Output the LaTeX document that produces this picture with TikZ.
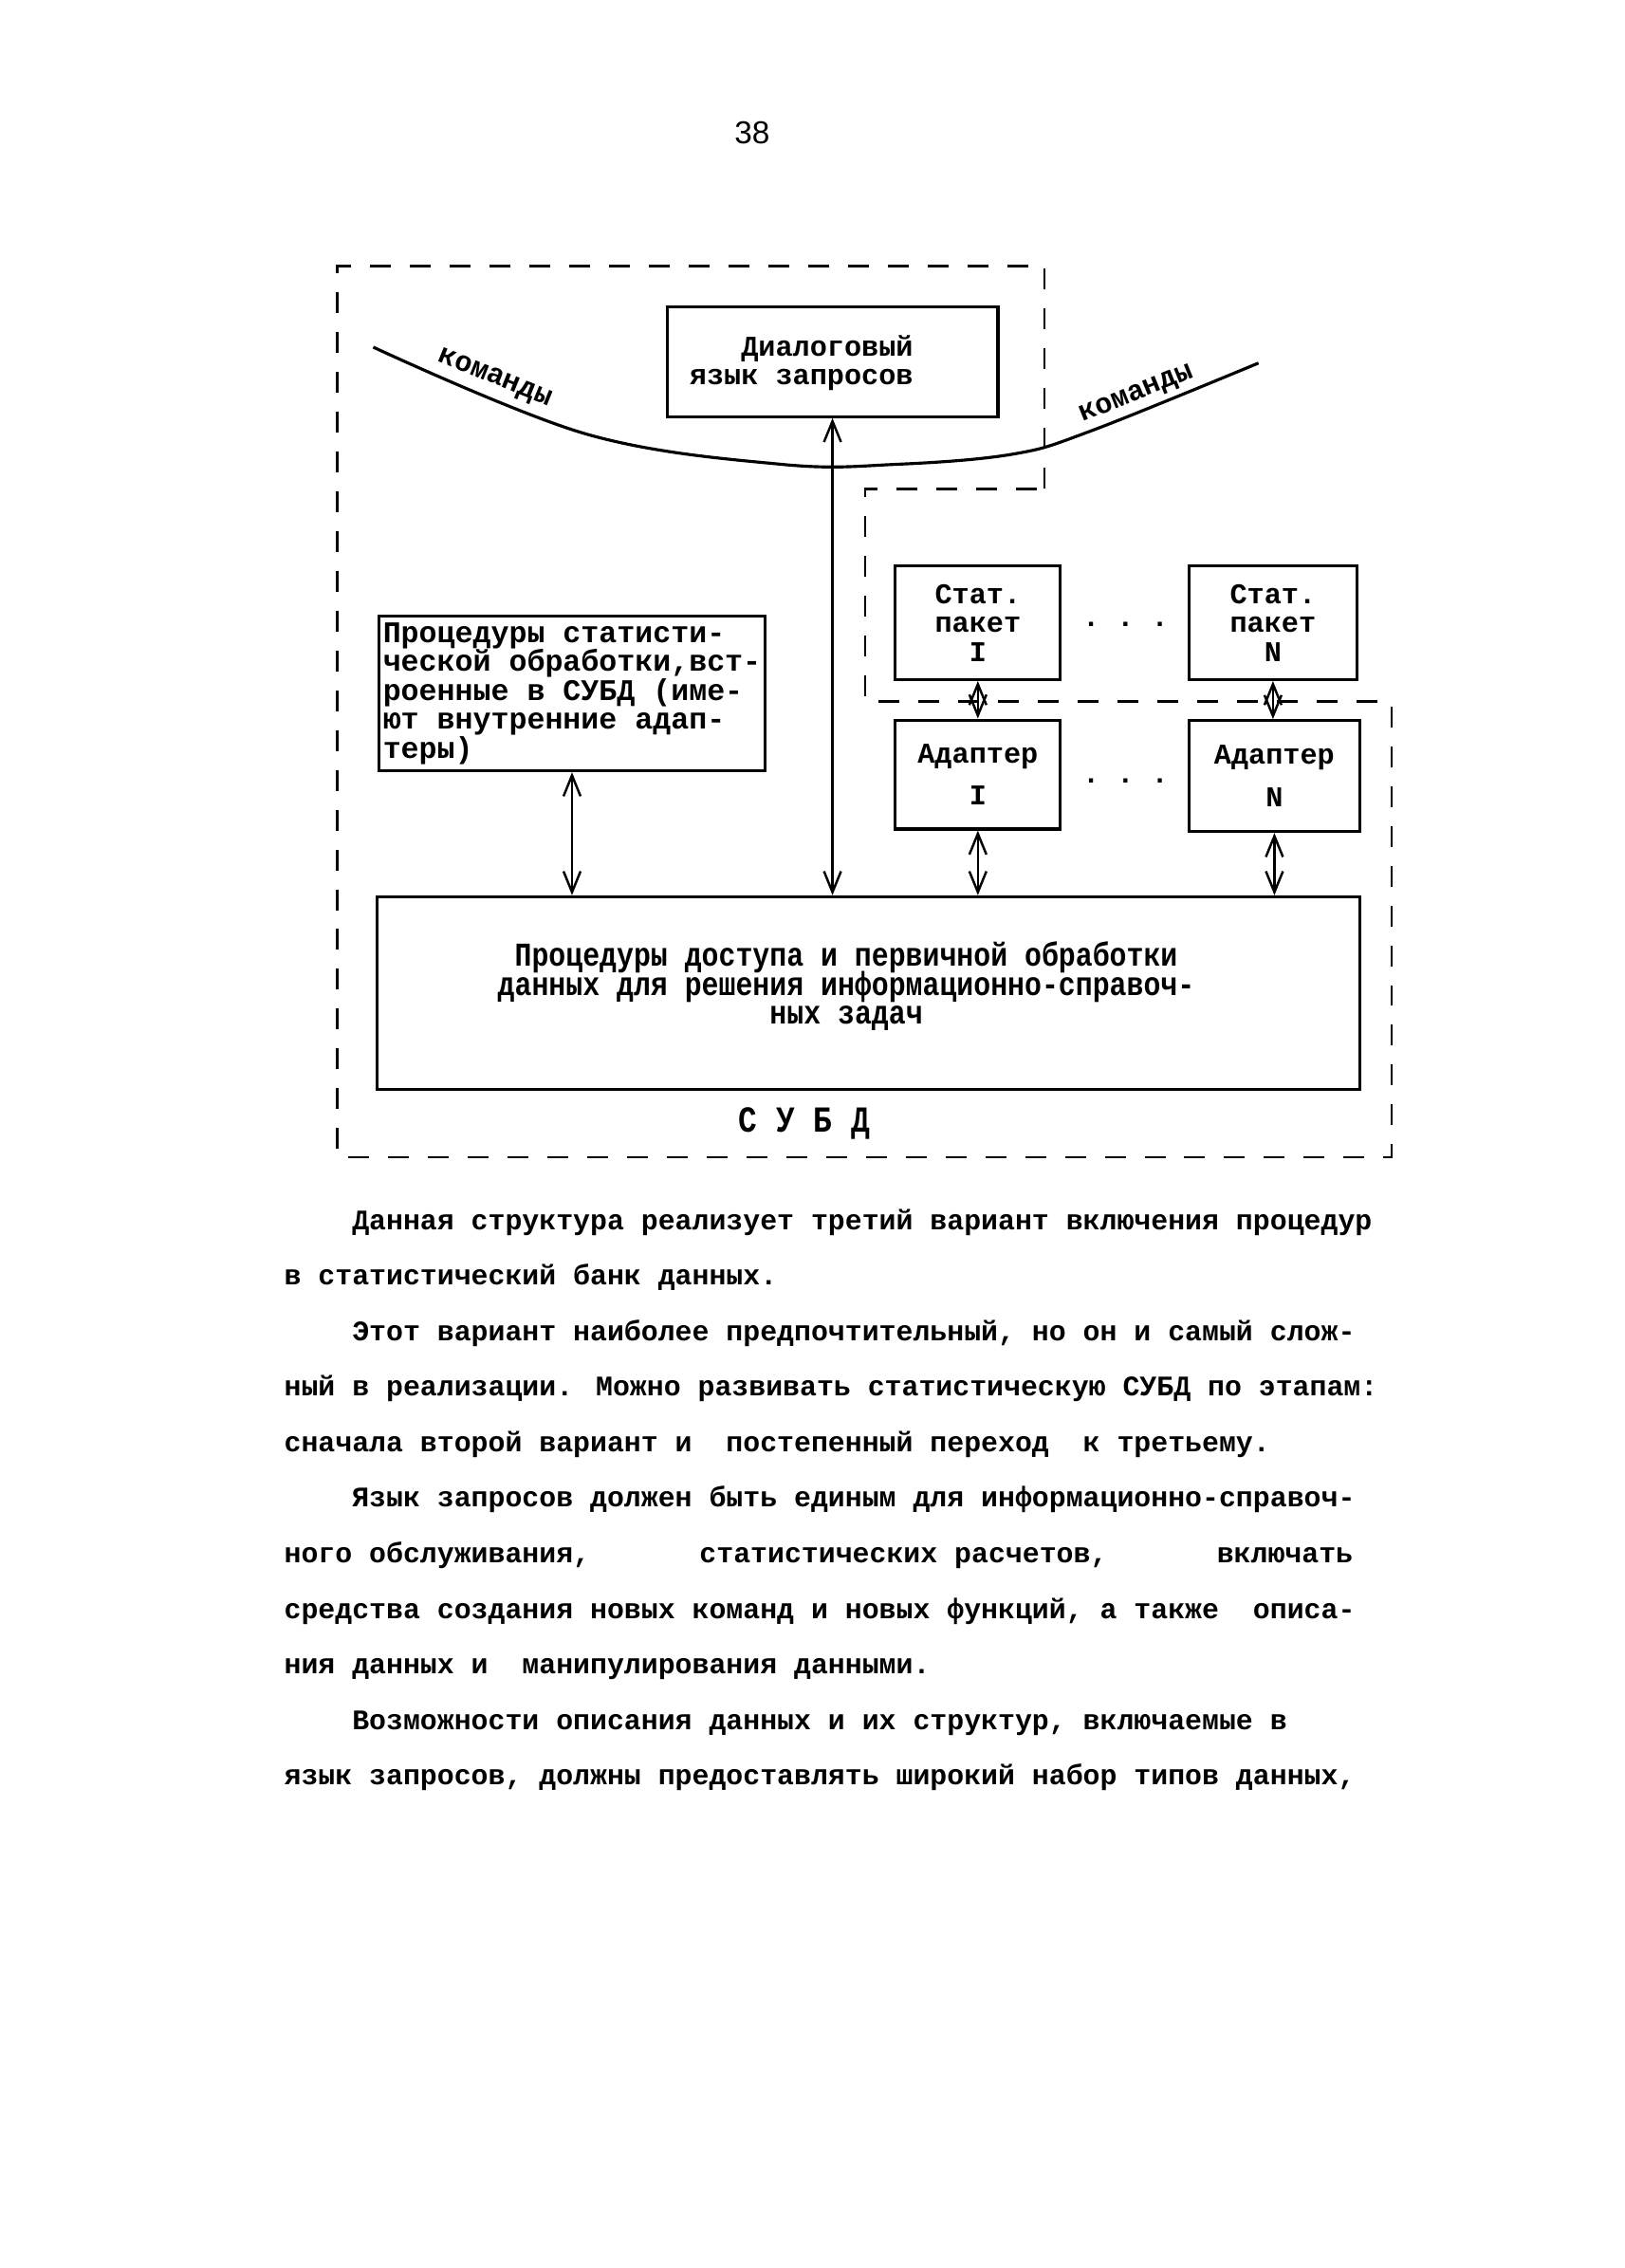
\documentclass[tikz,border=0pt]{standalone}
\usepackage{fontspec}
\setmainfont{Liberation Serif}
\newfontfamily\tw{Liberation Mono}
\newfontfamily\twn{Liberation Mono}[FakeStretch=0.85]
\newfontfamily\pgnum{Liberation Sans}
\usetikzlibrary{arrows.meta}

\tikzset{
  box/.style={draw, line width=0.9pt, inner sep=0pt, align=center},
  link/.style={{Straight Barb[length=2.2mm,width=1.8mm]}-{Straight Barb[length=2.2mm,width=1.8mm]}, line width=0.7pt},
  border/.style={line width=0.7pt, dash pattern=on 2.2mm off 2mm},
  pica/.style={font={\tw\bfseries\fontsize{8.6}{8.7}\selectfont\lineskiplimit=-9pt}},
  elite/.style={font={\twn\bfseries\fontsize{10}{8.7}\selectfont\lineskiplimit=-9pt}},
  typed/.style={font={\tw\bfseries\fontsize{8.5}{16.67}\selectfont}, inner sep=0pt}
}

\begin{document}
\begin{tikzpicture}[x=0.15254mm, y=-0.15254mm]
\useasboundingbox (0,0) rectangle (1123,1568);

\node[font=\pgnum\fontsize{9.5}{11}\selectfont] (pg) at (520,92) {38};

% границы СУБД
\draw[border] (722,338) -- (722,184) -- (233,184) -- (233,800) -- (962,800)
  -- (962,485) -- (598,485) -- (598,338) -- cycle;

% команды
\draw[line width=0.9pt] plot[smooth, tension=0.6] coordinates
  {(258,240) (405,300) (540,321) (620,321) (700,314) (754,298) (870,251)};
\node[pica, rotate=-22] (cmdl) at (342,262) {команды};
\node[pica, rotate=22] (cmdr) at (786,273) {команды};

\node[box, minimum width=34.9mm, minimum height=11.6mm] (dlg) at (575.5,250) {};
\node[pica, align=right] (dlgtxt) at (554,251) {Диалоговый\\язык запросов};

\node[box, align=left, anchor=north west, minimum width=40.7mm, minimum height=16.3mm,
  font={\tw\bfseries\fontsize{9}{8.7}\selectfont\lineskiplimit=-9pt}] (stp) at (261,425)
  {Процедуры статисти-\\ческой обработки,вст-\\роенные в СУБД (име-\\ют внутренние адап-\\теры)};

\node[box, pica, minimum width=17.4mm, minimum height=12mm] (pk1) at (676,430.5) {Стат.\\пакет\\I};
\node[box, pica, minimum width=17.7mm, minimum height=12mm] (pkN) at (880,430.5) {Стат.\\пакет\\N};
\node[pica] (dt1) at (778,432) {.~.~.};

\node[box, pica, minimum width=17.4mm, minimum height=11.5mm] (ad1) at (676,535.5) {Адаптер\\[1.4mm]I};
\node[box, pica, minimum width=18mm, minimum height=11.7mm] (adN) at (881,536.5) {Адаптер\\[1.4mm]N};
\node[pica] (dt2) at (778,540) {.~.~.};

\node[box, minimum width=103.6mm, minimum height=20.3mm] (main) at (600.5,686.5) {};
\node[elite, align=center] (maintxt) at (585,682)
  {Процедуры доступа и первичной обработки\\данных для решения информационно-справоч-\\ных задач};
\node[font={\twn\bfseries\fontsize{11}{12}\selectfont}] (subd) at (556,777) {С У Б Д};

\draw[link] (dlg.south) -- (dlg.south |- main.north);
\draw[link] (stp.south) -- (stp.south |- main.north);
\draw[link] (pk1.south) -- (ad1.north);
\draw[link] (pkN.south) -- (pkN.south |- adN.north);
\draw[link] (ad1.south) -- (ad1.south |- main.north);
\draw[link] (adN.south) -- (adN.south |- main.north);

\node[typed, anchor=base west, align=left] (txt) at (196,1234) {%
\hspace*{2.4em}Данная структура реализует третий вариант включения процедур\\
в статистический банк данных.\\
\hspace*{2.4em}Этот вариант наиболее предпочтительный, но он и самый слож-\\
ный в реализации. Можно развивать статистическую СУБД по этапам:\\
сначала второй вариант и~ постепенный переход~ к третьему.\\
\hspace*{2.4em}Язык запросов должен быть единым для информационно-справоч-\\
\makebox[112.7mm][l]{ного обслуживания,\hfill статистических расчетов,\hfill включать}\\
средства создания новых команд и новых функций, а также~ описа-\\
ния данных и~ манипулирования данными.\\
\hspace*{2.4em}Возможности описания данных и их структур, включаемые в\\
язык запросов, должны предоставлять широкий набор типов данных,};
\end{tikzpicture}
\end{document}
